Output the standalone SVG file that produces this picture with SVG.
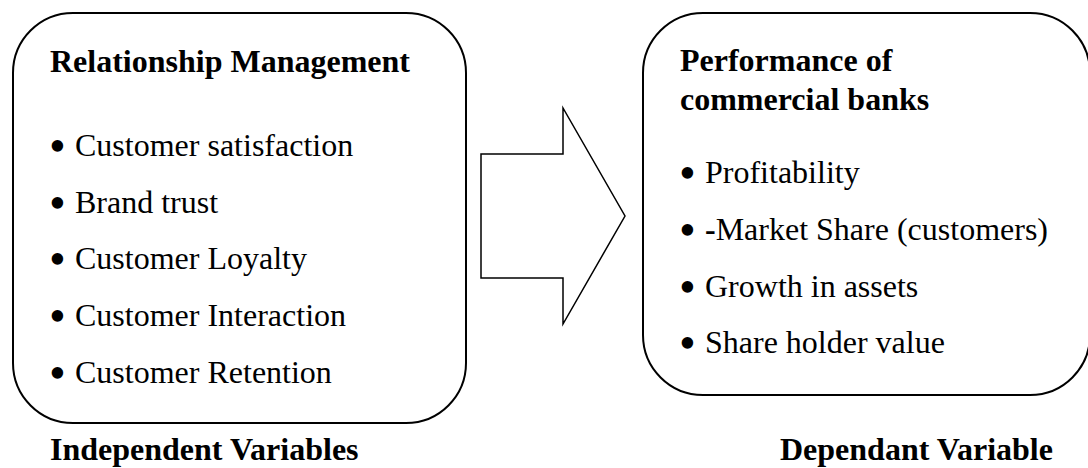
<svg xmlns="http://www.w3.org/2000/svg" width="1088" height="468" viewBox="0 0 1088 468">
  <style>
    .box { fill: #ffffff; stroke: #000000; stroke-width: 2; }
    .arrow { fill: #ffffff; stroke: #000000; stroke-width: 1.5; stroke-linejoin: miter; }
    text { font-family: "Liberation Serif", "Times New Roman", serif; font-size: 32px; fill: #000000; }
    .title { font-weight: bold; }
    .bullet { font-size: 48px; }
  </style>
  <rect width="1088" height="468" fill="#ffffff"/>

  <!-- independent variables box -->
  <g id="relationship-management">
    <rect class="box" x="13" y="13" width="453" height="410" rx="60" ry="60"/>
    <text class="title" x="50" y="72">Relationship Management</text>
    <text class="bullet" x="49" y="162">•</text>
    <text x="75" y="156">Customer satisfaction</text>
    <text class="bullet" x="49" y="219">•</text>
    <text x="75" y="213">Brand trust</text>
    <text class="bullet" x="49" y="275">•</text>
    <text x="75" y="269">Customer Loyalty</text>
    <text class="bullet" x="49" y="332">•</text>
    <text x="75" y="326">Customer Interaction</text>
    <text class="bullet" x="49" y="389">•</text>
    <text x="75" y="383">Customer Retention</text>
  </g>

  <!-- dependent variable box -->
  <g id="bank-performance">
    <rect class="box" x="643" y="13" width="447" height="382" rx="60" ry="60"/>
    <text class="title" x="680" y="71">Performance of</text>
    <text class="title" x="680" y="110">commercial banks</text>
    <text class="bullet" x="679" y="189">•</text>
    <text x="705" y="183">Profitability</text>
    <text class="bullet" x="679" y="246">•</text>
    <text x="705" y="240"><tspan font-weight="bold">-</tspan>Market Share (customers)</text>
    <text class="bullet" x="679" y="303">•</text>
    <text x="705" y="297">Growth in assets</text>
    <text class="bullet" x="679" y="359">•</text>
    <text x="705" y="353">Share holder value</text>
  </g>

  <!-- block arrow between the boxes -->
  <g id="connectors">
    <polygon class="arrow" points="481,154 563,154 563,108 625,216 563,324 563,278 481,278"/>
  </g>

  <!-- captions -->
  <g id="captions">
    <text class="title" x="50" y="460">Independent Variables</text>
    <text class="title" x="780" y="460">Dependant Variable</text>
  </g>
</svg>
